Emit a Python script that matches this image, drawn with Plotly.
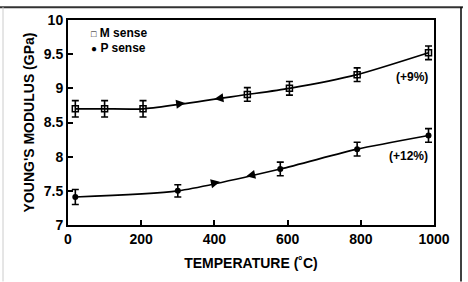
import numpy as np
import plotly.graph_objects as go

# Data
m_temp = [20, 100, 205, 490, 605, 790, 985]
m_mod = [8.70, 8.70, 8.70, 8.91, 9.00, 9.20, 9.52]
m_err = [0.12, 0.12, 0.12, 0.10, 0.10, 0.10, 0.10]

p_temp = [20, 300, 580, 790, 985]
p_mod = [7.41, 7.50, 7.82, 8.11, 8.31]
p_err = [0.11, 0.09, 0.10, 0.10, 0.10]

m_arrows = [(320, "right"), (400, "left")]
p_arrows = [(415, "right"), (487, "left")]

x_ticks = [0, 200, 400, 600, 800, 1000]
y_ticks = [7, 7.5, 8, 8.5, 9, 9.5, 10]
y_ticklabels = ["7", "7.5", "8", "8.5", "9", "9.5", "10"]

W, H = 468, 282
L, R, T, B = 68, 34, 18, 57
XR = [0, 1000]
YR = [7, 10]
px_per_x = (W - L - R) / (XR[1] - XR[0])
px_per_y = (H - T - B) / (YR[1] - YR[0])

FONT = "Liberation Sans, Arial, sans-serif"

fig = go.Figure()

fig.add_trace(go.Scatter(
    x=m_temp, y=m_mod, mode="lines+markers", name="M sense", showlegend=False,
    line=dict(color="black", width=1.7, shape="spline", smoothing=0.6),
    marker=dict(symbol="square-open", size=6, color="black", line=dict(width=1.5)),
    error_y=dict(type="data", array=m_err, color="black", thickness=1.6, width=3.5),
))
fig.add_trace(go.Scatter(
    x=p_temp, y=p_mod, mode="lines+markers", name="P sense", showlegend=False,
    line=dict(color="black", width=1.7, shape="spline", smoothing=0.6),
    marker=dict(symbol="circle", size=6, color="black"),
    error_y=dict(type="data", array=p_err, color="black", thickness=1.6, width=3.5),
))


def arrow_trace(xs_data, ys_data, arrows):
    xs, ys, angles, syms = [], [], [], []
    for xa, d in arrows:
        ya = float(np.interp(xa, xs_data, ys_data))
        y1 = float(np.interp(xa - 20, xs_data, ys_data))
        y2 = float(np.interp(xa + 20, xs_data, ys_data))
        slope_px = (y2 - y1) * px_per_y / (40 * px_per_x)
        ang = -np.degrees(np.arctan(slope_px))
        xs.append(xa)
        ys.append(ya)
        angles.append(ang)
        syms.append("arrow-right" if d == "right" else "arrow-left")
    return go.Scatter(
        x=xs, y=ys, mode="markers", showlegend=False, hoverinfo="skip",
        marker=dict(symbol=syms, angle=angles, size=9, color="black",
                    line=dict(width=0)),
    )


fig.add_trace(arrow_trace(m_temp, m_mod, m_arrows))
fig.add_trace(arrow_trace(p_temp, p_mod, p_arrows))

fig.add_annotation(x=990, y=9.17, text="(+9%)", showarrow=False, xanchor="right",
                   font=dict(family=FONT, size=12, color="black", weight="bold"))
fig.add_annotation(x=990, y=8.01, text="(+12%)", showarrow=False, xanchor="right",
                   font=dict(family=FONT, size=12, color="black", weight="bold"))


def px_to_paper_x(p):
    return (p - L) / (W - L - R)


def px_to_paper_y(q):
    return (H - B - q) / (H - T - B)


# legend drawn as text, as in the reference
fig.add_annotation(xref="paper", yref="paper", x=px_to_paper_x(89), y=px_to_paper_y(31),
                   xanchor="left", yanchor="middle", showarrow=False,
                   text="<span style='font-size:9px'>□</span> M sense",
                   font=dict(family=FONT, size=12, color="black", weight="bold"))
fig.add_annotation(xref="paper", yref="paper", x=px_to_paper_x(89), y=px_to_paper_y(46),
                   xanchor="left", yanchor="middle", showarrow=False,
                   text="<span style='font-size:10px'>●</span> P sense",
                   font=dict(family=FONT, size=12, color="black", weight="bold"))

# outer scanned frame
fig.add_shape(type="line", xref="paper", yref="paper",
              x0=px_to_paper_x(0), x1=px_to_paper_x(463),
              y0=px_to_paper_y(5), y1=px_to_paper_y(5),
              line=dict(color="#333", width=2))
fig.add_shape(type="line", xref="paper", yref="paper",
              x0=px_to_paper_x(461), x1=px_to_paper_x(461),
              y0=px_to_paper_y(5), y1=px_to_paper_y(282),
              line=dict(color="black", width=1.5))
fig.add_shape(type="line", xref="paper", yref="paper",
              x0=px_to_paper_x(3), x1=px_to_paper_x(3),
              y0=px_to_paper_y(5), y1=px_to_paper_y(282),
              line=dict(color="#ccc", width=1))

fig.update_layout(
    width=W, height=H,
    margin=dict(l=L, r=R, t=T, b=B),
    paper_bgcolor="white", plot_bgcolor="white",
    font=dict(family=FONT, color="black", size=14, weight="bold"),
    showlegend=False,
)
fig.update_xaxes(
    range=XR, tickvals=x_ticks, ticks="inside", ticklen=5, tickwidth=1.5,
    tickcolor="black", showgrid=False, zeroline=False, showline=True,
    linecolor="black", linewidth=2, mirror=True,
    tickfont=dict(size=14, weight="bold"),
    title=dict(text="TEMPERATURE (˚C)", font=dict(size=14, weight="bold"), standoff=12),
)
fig.update_yaxes(
    range=YR, tickvals=y_ticks, ticktext=y_ticklabels, ticks="inside", ticklen=5,
    tickwidth=1.5, tickcolor="black", showgrid=False, zeroline=False, showline=True,
    linecolor="black", linewidth=2, mirror=True,
    tickfont=dict(size=14, weight="bold"),
    title=dict(text="YOUNG'S MODULUS (GPa)", font=dict(size=14, weight="bold"), standoff=6),
)

fig.write_html("out.html")
